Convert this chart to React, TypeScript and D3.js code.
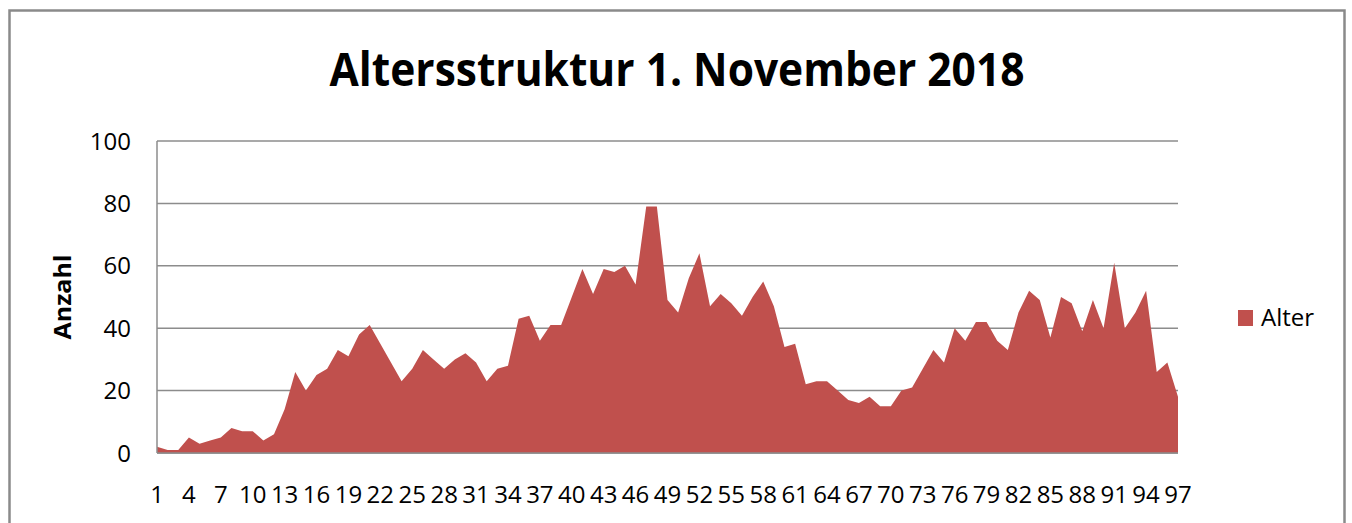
import * as d3 from "d3";

// Altersstruktur: number of persons per age (1..97)
const ages: number[] = d3.range(1, 98);
const counts: number[] = [
  2, 1, 1, 5, 3, 4, 5, 8, 7, 7,
  4, 6, 14, 26, 20, 25, 27, 33, 31, 38,
  41, 35, 29, 23, 27, 33, 30, 27, 30, 32,
  29, 23, 27, 28, 43, 44, 36, 41, 41, 50,
  59, 51, 59, 58, 60, 54, 79, 79, 49, 45,
  56, 64, 47, 51, 48, 44, 50, 55, 47, 34,
  35, 22, 23, 23, 20, 17, 16, 18, 15, 15,
  20, 21, 27, 33, 29, 40, 36, 42, 42, 36,
  33, 45, 52, 49, 37, 50, 48, 39, 49, 40,
  61, 40, 45, 52, 26, 29, 18,
];
const yTicks = [0, 20, 40, 60, 80, 100];
const xTickAges = ages.filter((a) => (a - 1) % 3 === 0);

const title = "Altersstruktur 1. November 2018";
const seriesName = "Alter";
const yTitle = "Anzahl";

const W = 1352;
const H = 523;
const plot = { left: 157, right: 1178, top: 141, bottom: 453 };
const fill = "#C0504D";
const gridColor = "#8c8c8c";
const font = "'Open Sans', 'Liberation Sans', sans-serif";

export default function App() {
  const x = d3.scaleLinear().domain([1, 97]).range([plot.left, plot.right]);
  const y = d3.scaleLinear().domain([0, 100]).range([plot.bottom, plot.top]);

  const area = d3
    .area<number>()
    .x((_, i) => x(ages[i]))
    .y0(y(0))
    .y1((d) => y(d));

  return (
    <svg
      width={W}
      height={H}
      style={{ position: "absolute", left: 0, top: 0, background: "#fff" }}
    >
      {/* outer frame */}
      <rect x={9.5} y={10.5} width={1335} height={530} fill="#fff" stroke="#8a8a8a" strokeWidth={2.5} />

      <text
        x={677}
        y={86}
        textAnchor="middle"
        fontFamily={font}
        fontWeight="bold"
        fontSize={46}
        textLength={695}
        lengthAdjust="spacingAndGlyphs"
        fill="#000"
      >
        {title}
      </text>

      {/* gridlines */}
      {yTicks.map((t) => (
        <line
          key={t}
          x1={plot.left}
          x2={plot.right}
          y1={y(t)}
          y2={y(t)}
          stroke={gridColor}
          strokeWidth={1.5}
        />
      ))}

      <path d={area(counts) ?? ""} fill={fill} />

      {/* axes */}
      <line x1={plot.left} x2={plot.left} y1={plot.top} y2={plot.bottom} stroke={gridColor} strokeWidth={1.5} />
      <line x1={plot.left} x2={plot.right} y1={plot.bottom} y2={plot.bottom} stroke={gridColor} strokeWidth={1.5} />

      {yTicks.map((t) => (
        <text
          key={t}
          x={131}
          y={y(t)}
          dy="0.36em"
          textAnchor="end"
          fontFamily={font}
          fontSize={24}
          fill="#000"
        >
          {t}
        </text>
      ))}

      {xTickAges.map((a) => (
        <text
          key={a}
          x={x(a)}
          y={503}
          textAnchor="middle"
          fontFamily={font}
          fontSize={24}
          fill="#000"
        >
          {a}
        </text>
      ))}

      <text
        transform={`translate(71,297) rotate(-90)`}
        textAnchor="middle"
        fontFamily={font}
        fontWeight="bold"
        fontSize={24}
        textLength={85}
        lengthAdjust="spacingAndGlyphs"
        fill="#000"
      >
        {yTitle}
      </text>

      {/* legend */}
      <rect x={1238} y={310} width={15} height={16} fill={fill} />
      <text x={1261} y={326} fontFamily={font} fontSize={24} fill="#000">
        {seriesName}
      </text>
    </svg>
  );
}
